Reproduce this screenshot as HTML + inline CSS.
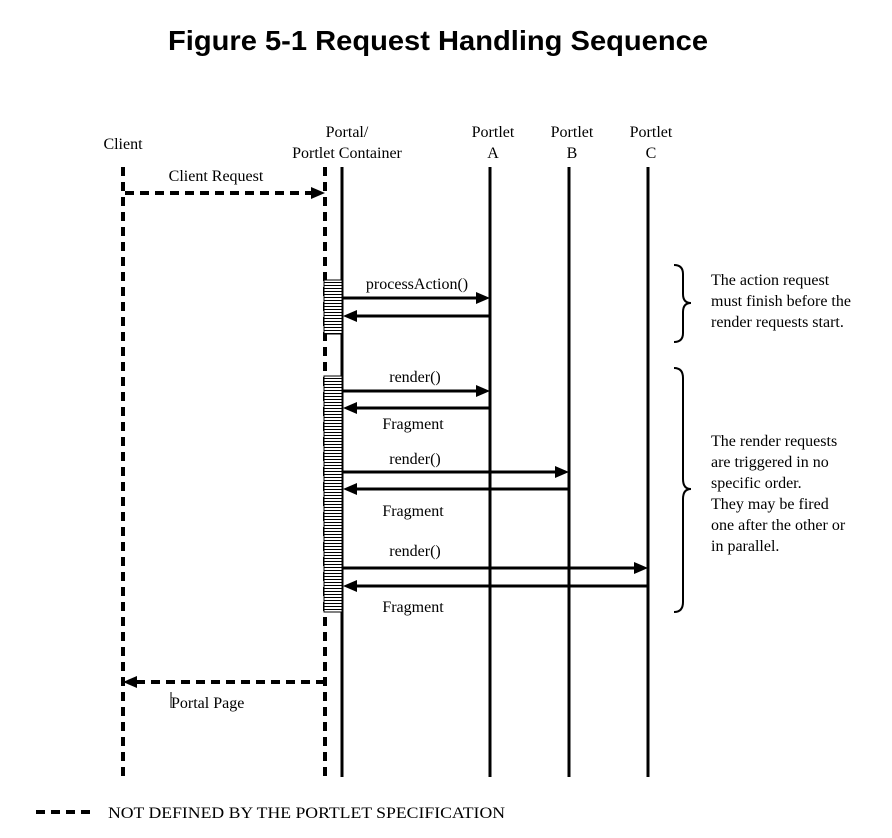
<!DOCTYPE html>
<html><head><meta charset="utf-8"><style>
html,body{margin:0;padding:0;background:#fff;}
svg{display:block;}
text{font-family:"Liberation Serif",serif;font-size:16px;fill:#000;}
.t{font-family:"Liberation Sans",sans-serif;font-weight:bold;font-size:28px;}
</style></head><body>
<svg width="892" height="838" viewBox="0 0 892 838" xmlns="http://www.w3.org/2000/svg">
<defs>
<pattern id="st" width="4" height="3" patternUnits="userSpaceOnUse">
<rect width="4" height="3" fill="#fff"/><rect width="4" height="1" fill="#000"/>
</pattern>
</defs>
<text class="t" x="438" y="50" text-anchor="middle" textLength="540" lengthAdjust="spacingAndGlyphs">Figure 5-1 Request Handling Sequence</text>

<text x="123" y="149" text-anchor="middle">Client</text>
<text x="347" y="137" text-anchor="middle">Portal/</text>
<text x="347" y="158" text-anchor="middle">Portlet Container</text>
<text x="493" y="137" text-anchor="middle">Portlet</text>
<text x="493" y="158" text-anchor="middle">A</text>
<text x="572" y="137" text-anchor="middle">Portlet</text>
<text x="572" y="158" text-anchor="middle">B</text>
<text x="651" y="137" text-anchor="middle">Portlet</text>
<text x="651" y="158" text-anchor="middle">C</text>

<g stroke="#000" stroke-width="4" stroke-dasharray="9,6" fill="none">
<line x1="123" y1="167" x2="123" y2="777"/>
<line x1="325" y1="167" x2="325" y2="777"/>
<line x1="125" y1="193" x2="312" y2="193"/>
<line x1="325" y1="682" x2="136" y2="682"/>
<line x1="36" y1="812" x2="94" y2="812"/>
</g>
<g stroke="#000" stroke-width="3">
<line x1="342" y1="167" x2="342" y2="777"/>
<line x1="490" y1="167" x2="490" y2="777"/>
<line x1="569" y1="167" x2="569" y2="777"/>
<line x1="648" y1="167" x2="648" y2="777"/>
</g>
<rect x="324" y="280" width="18" height="54" fill="url(#st)" stroke="#000" stroke-width="1"/>
<rect x="324" y="376" width="18" height="236" fill="url(#st)" stroke="#000" stroke-width="1"/>

<g stroke="#000" stroke-width="3">
<line x1="342" y1="298" x2="478" y2="298"/>
<line x1="490" y1="316" x2="354" y2="316"/>
<line x1="342" y1="391" x2="478" y2="391"/>
<line x1="490" y1="408" x2="354" y2="408"/>
<line x1="342" y1="472" x2="557" y2="472"/>
<line x1="569" y1="489" x2="354" y2="489"/>
<line x1="342" y1="568" x2="636" y2="568"/>
<line x1="648" y1="586" x2="354" y2="586"/>
</g>
<g fill="#000">
<polygon points="490,298 476,292 476,304"/>
<polygon points="343,316 357,310 357,322"/>
<polygon points="490,391 476,385 476,397"/>
<polygon points="343,408 357,402 357,414"/>
<polygon points="569,472 555,466 555,478"/>
<polygon points="343,489 357,483 357,495"/>
<polygon points="648,568 634,562 634,574"/>
<polygon points="343,586 357,580 357,592"/>
<polygon points="325,193 311,187 311,199"/>
<polygon points="123,682 137,676 137,688"/>
</g>

<text x="216" y="181" text-anchor="middle">Client Request</text>
<text x="417" y="289" text-anchor="middle">processAction()</text>
<text x="415" y="382" text-anchor="middle">render()</text>
<text x="413" y="429" text-anchor="middle">Fragment</text>
<text x="415" y="464" text-anchor="middle">render()</text>
<text x="413" y="516" text-anchor="middle">Fragment</text>
<text x="415" y="556" text-anchor="middle">render()</text>
<text x="413" y="612" text-anchor="middle">Fragment</text>
<text x="171" y="708">Portal Page</text>
<line x1="171" y1="692" x2="171" y2="708" stroke="#000" stroke-width="1"/>

<g fill="none" stroke="#000" stroke-width="2">
<path d="M674,265 Q683,265 683,274 L683,294 Q683,303 691,303 Q683,303 683,312 L683,333 Q683,342 674,342"/>
<path d="M674,368 Q683,368 683,378 L683,479 Q683,489 691,489 Q683,489 683,499 L683,602 Q683,612 674,612"/>
</g>
<text x="711" y="285">The action request</text>
<text x="711" y="306">must finish before the</text>
<text x="711" y="327">render requests start.</text>
<text x="711" y="446">The render requests</text>
<text x="711" y="467">are triggered in no</text>
<text x="711" y="488">specific order.</text>
<text x="711" y="509">They may be fired</text>
<text x="711" y="530">one after the other or</text>
<text x="711" y="551">in parallel.</text>

<text x="108" y="818" textLength="397" lengthAdjust="spacingAndGlyphs">NOT DEFINED BY THE PORTLET SPECIFICATION</text>
</svg>
</body></html>
